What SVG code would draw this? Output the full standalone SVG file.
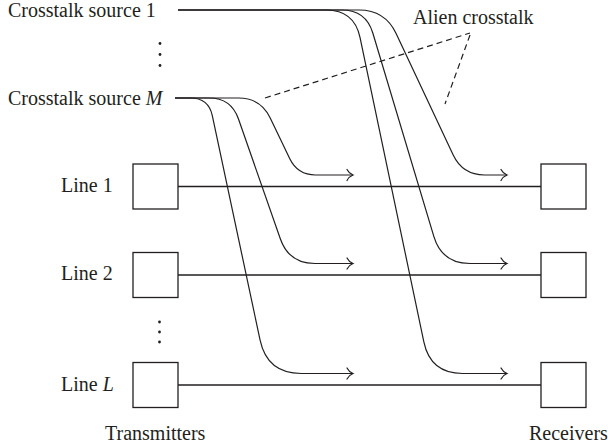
<svg xmlns="http://www.w3.org/2000/svg" width="608" height="448" viewBox="0 0 608 448">
  <style>
    .lbl { font-family: "Liberation Serif", "Times New Roman", serif; font-size: 20px; fill: #231f20; }
    .dots { font-family: "DejaVu Sans", sans-serif; font-size: 22px; fill: #231f20; }
    .box { fill: #ffffff; stroke: #231f20; stroke-width: 1.3; }
    .wire { fill: none; stroke: #231f20; stroke-width: 1.3; }
    .xt { fill: none; stroke: #231f20; stroke-width: 1.2; marker-end: url(#arr); }
    .dash { fill: none; stroke: #231f20; stroke-width: 1.2; stroke-dasharray: 6 4; }
  </style>
  <defs>
    <marker id="arr" markerUnits="userSpaceOnUse" markerWidth="14" markerHeight="14" viewBox="-8 -7 10 14" refX="0" refY="0" orient="auto" overflow="visible">
      <path d="M -6 -5.5 C -4.5 -2.5 -1.5 -0.6 0 0 C -1.5 0.6 -4.5 2.5 -6 5.5" fill="none" stroke="#231f20" stroke-width="1.2" stroke-linecap="round"/>
    </marker>
  </defs>

  <!-- crosstalk sources -->
  <g id="source1">
    <text class="lbl" x="8" y="16.5">Crosstalk source 1</text>
  </g>
  <g id="sourceDots">
    <circle cx="160" cy="43.5" r="1.4" fill="#231f20"/>
    <circle cx="160" cy="54.5" r="1.4" fill="#231f20"/>
    <circle cx="160" cy="65.5" r="1.4" fill="#231f20"/>
  </g>
  <g id="sourceM">
    <text class="lbl" x="8" y="104.5">Crosstalk source <tspan font-style="italic">M</tspan></text>
  </g>

  <!-- alien crosstalk annotation -->
  <g id="alienLabel">
    <text class="lbl" x="413" y="24">Alien crosstalk</text>
    <path class="dash" d="M265 98 L470 33"/>
    <path class="dash" d="M470 35 L445 104"/>
  </g>

  <!-- transmitters -->
  <g id="tx1"><rect class="box" x="133" y="164" width="45" height="45"/><text class="lbl" x="61" y="191.5">Line 1</text></g>
  <g id="tx2"><rect class="box" x="133" y="252.5" width="45" height="45"/><text class="lbl" x="61" y="280">Line 2</text></g>
  <g id="txDots">
    <circle cx="159.5" cy="322" r="1.4" fill="#231f20"/>
    <circle cx="159.5" cy="332" r="1.4" fill="#231f20"/>
    <circle cx="159.5" cy="342" r="1.4" fill="#231f20"/>
  </g>
  <g id="txL"><rect class="box" x="133" y="362.5" width="45" height="45"/><text class="lbl" x="61" y="391">Line <tspan font-style="italic">L</tspan></text></g>
  <g id="txLabel"><text class="lbl" x="105" y="440">Transmitters</text></g>

  <!-- receivers -->
  <g id="rx1"><rect class="box" x="541" y="164" width="45" height="45"/></g>
  <g id="rx2"><rect class="box" x="541" y="252.5" width="45" height="45"/></g>
  <g id="rxL"><rect class="box" x="541" y="362.5" width="45" height="45"/></g>
  <g id="rxLabel"><text class="lbl" x="529" y="440">Receivers</text></g>

  <!-- connectors -->
  <g id="connectors">
    <!-- direct lines -->
    <path class="wire" d="M178 186.5 H541"/>
    <path class="wire" d="M178 275 H541"/>
    <path class="wire" d="M178 385 H541"/>

    <!-- coupling from source 1 -->
    <path class="xt" d="M178 10 H359 Q385 10 396.1 33.5 L453.2 155.1 Q462.6 175 484.6 175 H507"/>
    <path class="xt" d="M178 10 H341.9 Q365.9 10 372.8 33 L433.9 236.7 Q442 263.5 470 263.5 H507"/>
    <path class="xt" d="M178 10 H326.2 Q354.2 10 360 37.4 L423.9 342.2 Q430.5 373.5 462.5 373.5 H507"/>

    <!-- coupling from source M -->
    <path class="xt" d="M175 98 H238.6 Q260.6 98 270.1 117.8 L289.8 158.8 Q297.6 175 315.6 175 H353"/>
    <path class="xt" d="M175 98 H209.1 Q231.1 98 238.4 118.8 L280.4 239 Q289 263.5 315 263.5 H353"/>
    <path class="xt" d="M175 98 H190.5 Q208.5 98 212.3 115.6 L260.1 340.2 Q267.2 373.5 301.2 373.5 H353"/>
  </g>
</svg>
